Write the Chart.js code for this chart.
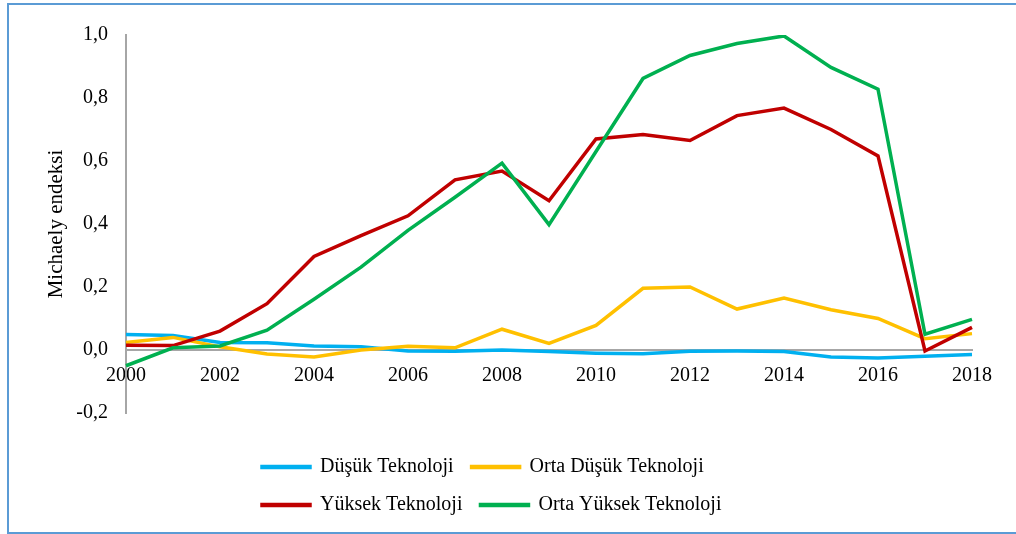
<!DOCTYPE html>
<html>
<head>
<meta charset="utf-8">
<script src="https://cdn.jsdelivr.net/npm/chart.js@4"></script>
<style>
    body { margin: 0; background: #fff; overflow: hidden; }
    #frame { position: absolute; left: 7px; top: 3px; width: 1010px; height: 527px; border: 2px solid #5b9bd5; }
    #chart { display: block; }
</style>
</head>
<body>
<div id="frame"><canvas id="chart" width="1000" height="521"></canvas></div>
<script>
// Michaely endeksi, 2000-2018
var years = ['2000', '2001', '2002', '2003', '2004', '2005', '2006', '2007', '2008', '2009',
    '2010', '2011', '2012', '2013', '2014', '2015', '2016', '2017', '2018'];

var dusuk = [0.049, 0.046, 0.024, 0.023, 0.013, 0.010, -0.003, -0.004, 0.000, -0.005,
    -0.010, -0.012, -0.004, -0.003, -0.005, -0.022, -0.025, -0.020, -0.014];
var ortaDusuk = [0.024, 0.040, 0.010, -0.013, -0.022, 0.000, 0.012, 0.007, 0.066, 0.021,
    0.078, 0.196, 0.200, 0.130, 0.165, 0.128, 0.100, 0.036, 0.052];
var yuksek = [0.015, 0.014, 0.060, 0.147, 0.297, 0.363, 0.426, 0.540, 0.568, 0.474,
    0.670, 0.684, 0.665, 0.744, 0.768, 0.700, 0.616, -0.003, 0.072];
var ortaYuksek = [-0.050, 0.007, 0.013, 0.063, 0.161, 0.263, 0.380, 0.485, 0.593, 0.398,
    0.630, 0.862, 0.935, 0.973, 0.997, 0.897, 0.828, 0.050, 0.097];

var serif = 'Liberation Serif, Times New Roman, serif';

function line(label, data, color, order) {
    return {
        label: label,
        data: data,
        borderColor: color,
        backgroundColor: color,
        borderWidth: 3.5,
        pointRadius: 0,
        tension: 0,
        order: order
    };
}

// legend: narrow box under the plot so it wraps to two items per row
var legendLayout = {
    id: 'legendLayout',
    afterLayout: function (chart) {
        var lg = chart.legend;
        lg.left += 200;
        lg.right = lg.left + 560;
        lg.top += 26; lg.bottom += 26;
    }
};

var ctx = document.getElementById('chart');
var myChart = new Chart(ctx, {
    type: 'line',
    data: {
        labels: years,
        datasets: [
            line('Düşük Teknoloji', dusuk, '#00b0f0', 3),
            line('Orta Düşük Teknoloji', ortaDusuk, '#ffc000', 2),
            line('Yüksek Teknoloji', yuksek, '#c00000', 1),
            line('Orta Yüksek Teknoloji', ortaYuksek, '#00b050', 0)
        ]
    },
    plugins: [legendLayout],
    options: {
        responsive: false,
        animation: false,
        layout: { padding: { left: 35, right: 37, top: 28, bottom: 27 } },
        plugins: {
            tooltip: { enabled: false },
            legend: {
                position: 'bottom',
                align: 'start',
                labels: {
                    font: { family: serif, size: 20 },
                    color: '#000',
                    boxWidth: 48,
                    boxHeight: 1,
                    padding: 18,
                    sort: function (a, b) { return a.datasetIndex - b.datasetIndex; }
                }
            }
        },
        scales: {
            x: {
                position: { y: 0 },
                grid: { display: false, drawTicks: false },
                border: { color: '#a6a6a6', width: 2 },
                ticks: {
                    autoSkip: false,
                    maxRotation: 0,
                    padding: 14,
                    color: '#000',
                    font: { family: serif, size: 20 },
                    callback: function (v, i) { return i % 2 === 0 ? years[i] : ''; }
                }
            },
            y: {
                min: -0.2,
                max: 1.0,
                grid: { display: false, drawTicks: false },
                border: { color: '#a6a6a6', width: 2 },
                ticks: {
                    stepSize: 0.2,
                    padding: 18,
                    color: '#000',
                    font: { family: serif, size: 20 },
                    callback: function (v) {
                        if (Math.abs(v) < 1e-9) v = 0;
                        return v.toFixed(1).replace('.', ',');
                    }
                },
                title: {
                    display: true,
                    text: 'Michaely endeksi',
                    color: '#000',
                    padding: 0,
                    font: { family: serif, size: 21 }
                },
                afterFit: function (scale) { scale.width = 82; }
            }
        }
    }
});
</script>
</body>
</html>
